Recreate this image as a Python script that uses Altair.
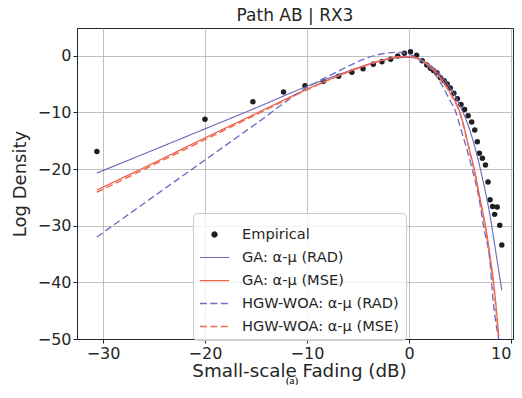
import altair as alt
import pandas as pd

# ---------------- data ----------------
series_names = ["Empirical", "GA: α-μ (RAD)", "GA: α-μ (MSE)",
                "HGW-WOA: α-μ (RAD)", "HGW-WOA: α-μ (MSE)"]

emp_x = [-30.6, -20.0, -15.3, -12.3, -10.2, -8.4, -6.9, -5.6, -4.5, -3.5,
         -2.65, -1.8, -1.1, -0.45, 0.15, 0.75, 1.3, 1.75, 2.1, 2.4, 2.75,
         3.1, 3.45, 3.75, 4.05, 4.4, 4.75, 5.1, 5.45, 5.8, 6.15, 6.45, 6.7,
         6.9, 7.2, 7.5, 7.75, 7.95, 8.2, 8.65, 8.4, 8.9, 9.1]
emp_y = [-16.9, -11.2, -8.1, -6.4, -5.3, -4.5, -3.6, -2.9, -2.3, -1.5,
         -1.05, -0.6, -0.05, 0.45, 0.7, 0.1, -0.9, -1.65, -2.2, -2.6, -3.0,
         -3.9, -4.4, -5.0, -5.7, -6.6, -7.6, -8.6, -9.5, -10.6, -11.7, -13.1,
         -15.2, -17.2, -18.1, -19.3, -22.3, -25.4, -26.6, -26.7, -28.0,
         -29.9, -33.4]

ga_rad_x = [-30.6, -25, -20, -15, -10, -7, -5, -3, -1, 0, 1, 2, 3, 4, 5,
            6, 7, 8, 8.5, 9.1]
ga_rad_y = [-20.7, -16.6, -12.9, -9.2, -5.4, -3.4, -2.1, -1.0, -0.35, -0.3,
            -0.6, -1.6, -3.2, -5.6, -8.8, -13.3, -20.0, -28.8, -34.5, -41.4]

ga_mse_x = [-30.6, -25, -20, -15, -10, -7, -5, -3, -1, 0, 1, 2, 3, 4, 5,
            6, 6.4, 7, 7.5, 8, 8.3, 8.8]
ga_mse_y = [-23.7, -18.9, -14.5, -10.2, -5.9, -3.6, -2.2, -1.0, -0.2, -0.15,
            -0.6, -1.8, -3.7, -6.4, -10.0, -17.1, -20.0, -25.5, -30.0, -36.0,
            -40.0, -49.5]

hgw_rad_x = [-30.6, -25, -20, -15, -10, -8, -6, -4, -2, -1, 0, 1, 2, 3, 4,
             4.6, 5, 6, 6.2, 7, 7.3, 8, 8.1, 8.8]
hgw_rad_y = [-32.0, -24.8, -18.4, -12.0, -5.6, -3.7, -1.9, -0.3, 0.5, 0.6,
             0.3, -0.6, -2.1, -4.5, -7.8, -10.0, -12.4, -18.6, -20.0, -26.5,
             -30.0, -37.5, -40.0, -50.0]

hgw_mse_x = [-30.6, -25, -20, -15, -10, -7, -5, -3, -1, 0, 1, 2, 3, 4, 5,
             6, 6.4, 7, 7.5, 8, 8.3, 8.8]
hgw_mse_y = [-24.1, -19.2, -14.8, -10.4, -6.0, -3.6, -2.2, -1.0, -0.2, -0.15,
             -0.6, -1.8, -3.8, -6.5, -10.2, -17.3, -20.3, -25.8, -30.4, -36.5,
             -40.5, -50.0]

x_ticks = [-30, -20, -10, 0, 10]
y_ticks = [0, -10, -20, -30, -40, -50]

colors = ["#1f1f1f", "#6b6bb8", "#f0604a", "#6a70c6", "#f26a55"]
widths = [1.0, 1.5, 1.7, 2.3, 2.3]
dashes = [[1, 0], [1, 0], [1, 0], [7, 3.5], [7, 3.5]]

# ---------------- tables ----------------
emp_df = pd.DataFrame({"x": emp_x, "y": emp_y, "series": series_names[0]})
frames = []
for i, (xs, ys) in enumerate([(ga_rad_x, ga_rad_y), (ga_mse_x, ga_mse_y),
                              (hgw_rad_x, hgw_rad_y), (hgw_mse_x, hgw_mse_y)],
                             start=1):
    frames.append(pd.DataFrame({"x": xs, "y": ys, "series": series_names[i]}))
line_df = pd.concat(frames, ignore_index=True)

PLOT_W = 436
x_scale = alt.Scale(domain=[-32.55, 10.2], nice=False, zero=False)
y_scale = alt.Scale(domain=[-50, 4.9], nice=False, zero=False)

x_axis = alt.Axis(values=x_ticks, title="Small-scale Fading (dB)", grid=True,
                  titleFontSize=18.3, titleX=222, titleAlign="center",
                  labelFlush=6)
y_axis = alt.Axis(values=y_ticks, title="Log Density", grid=True,
                  titleFontSize=18)

points = alt.Chart(emp_df).mark_circle(size=30, opacity=1, color=colors[0]).encode(
    x=alt.X("x:Q", scale=x_scale, axis=x_axis),
    y=alt.Y("y:Q", scale=y_scale, axis=y_axis),
)

legend = alt.Legend(
    title=None, orient="none", legendX=116, legendY=185,
    symbolType={"expr": "datum.value == 'Empirical' ? 'circle' : 'stroke'"},
    symbolSize={"expr": "datum.value == 'Empirical' ? 30 : 860"},
    symbolDash={"expr": "indexof(datum.value, 'HGW') >= 0 ? [7, 3.5] : [1, 0]"},
    symbolStrokeWidth={"expr": "indexof(datum.value, 'HGW') >= 0 ? 2.3 : 1.5"},
    symbolFillColor={"expr": "datum.value == 'Empirical' ? '#1f1f1f' : 'transparent'"},
    labelFont="DejaVu Sans", labelFontSize=14.6, labelColor="#262626",
    labelOffset=12, rowPadding=0, padding=6,
    fillColor="rgba(255,255,255,0.8)", strokeColor="#cccccc", cornerRadius=4,
    labelLimit=300,
)

lines = alt.Chart(line_df).mark_line(interpolate="monotone").encode(
    x=alt.X("x:Q", scale=x_scale),
    y=alt.Y("y:Q", scale=y_scale),
    color=alt.Color("series:N", scale=alt.Scale(domain=series_names, range=colors),
                    legend=legend),
    strokeDash=alt.StrokeDash("series:N",
                              scale=alt.Scale(domain=series_names, range=dashes),
                              legend=None),
    strokeWidth=alt.StrokeWidth("series:N",
                                scale=alt.Scale(domain=series_names, range=widths),
                                legend=None),
    order=alt.Order("x:Q"),
)

caption = alt.Chart(pd.DataFrame({"t": ["(a)"]})).mark_text(
    font="Liberation Serif", fontSize=11, color="#000000", baseline="alphabetic"
).encode(x=alt.value(215), y=alt.value(355.5), text="t:N")

chart = alt.layer(points, lines, caption).properties(
    width=PLOT_W, height=311,
    title=alt.Title("Path AB | RX3", font="DejaVu Sans", fontSize=17,
                    fontWeight="normal", color="#262626", offset=3),
    autosize=alt.AutoSizeParams(type="none"),
    padding={"left": 69, "top": 20, "right": 1, "bottom": 46},
).configure_axis(
    labelFont="DejaVu Sans", labelFontSize=16, labelColor="#262626",
    titleFont="DejaVu Sans", titleFontWeight="normal",
    titleColor="#262626",
    gridColor="#b0b0b0", gridWidth=0.8, gridOpacity=1,
    domainColor="#262626", domainWidth=1,
    tickColor="#262626", tickSize=4, tickWidth=1, labelPadding=2,
).configure_axisX(titlePadding=1).configure_axisY(titlePadding=8).configure_view(
    stroke="#262626", strokeWidth=1
)

chart.save("out.html", embed_options={"renderer": "svg", "actions": False})
